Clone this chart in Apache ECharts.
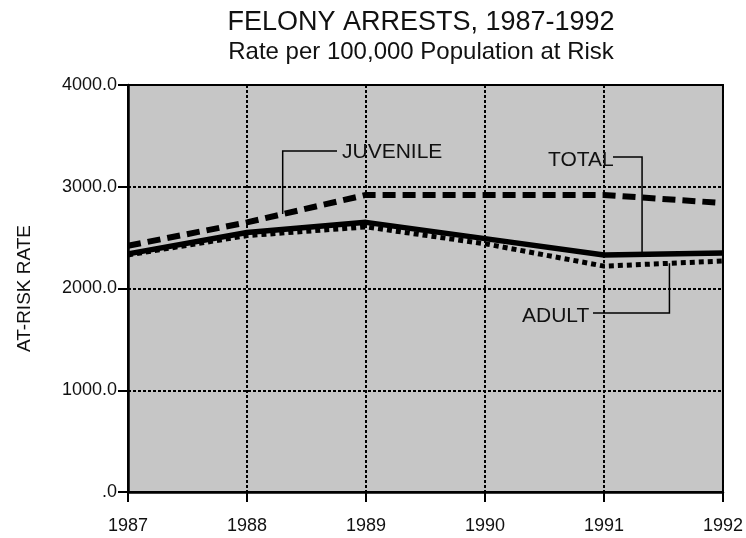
<!DOCTYPE html>
<html>
<head>
<meta charset="utf-8">
<script src="https://cdn.jsdelivr.net/npm/echarts@6/dist/echarts.min.js"></script>
<style>
html,body{margin:0;padding:0;background:#fff;}
#chart{width:746px;height:538px;}
</style>
</head>
<body>
<div id="chart"></div>
<script>
// ---- data ----
const yearLabels = ['1987', '1988', '1989', '1990', '1991', '1992'];
const years = [1987, 1988, 1989, 1990, 1991, 1992];
const juvenile = [2420, 2650, 2920, 2920, 2920, 2840];
const total = [2340, 2550, 2650, 2490, 2330, 2350];
const adult = [2330, 2520, 2605, 2440, 2220, 2270];
const yTickLabels = ['.0', '1000.0', '2000.0', '3000.0', '4000.0'];
const titleText = 'FELONY ARRESTS, 1987-1992';
const subtitleText = 'Rate per 100,000 Population at Risk';
const yAxisName = 'AT-RISK RATE';

const FONT = '"Liberation Sans", Arial, Helvetica, sans-serif';
const chart = echarts.init(document.getElementById('chart'));

const toPairs = arr => years.map((y, i) => [y, arr[i]]);

chart.setOption({
  animation: false,
  backgroundColor: '#ffffff',
  grid: {
    left: 128, right: 16, top: 85, bottom: 46,
    show: true, backgroundColor: '#c6c6c6',
    borderColor: '#000', borderWidth: 2
  },
  xAxis: {
    type: 'value', min: 1987, max: 1992, interval: 1,
    axisLine: { show: true, onZero: false, lineStyle: { color: '#000', width: 2.5 } },
    axisTick: { show: true, length: 10, lineStyle: { color: '#000', width: 2 } },
    axisLabel: {
      formatter: v => yearLabels[years.indexOf(v)] || '',
      fontSize: 18, color: '#111', fontFamily: FONT, margin: 25
    },
    splitLine: { show: true, lineStyle: { color: '#000', width: 2, type: [3, 2] } }
  },
  yAxis: {
    type: 'value', min: 0, max: 4000, interval: 1000,
    name: yAxisName, nameLocation: 'middle', nameGap: 94,
    nameTextStyle: { fontSize: 19, color: '#111', fontFamily: FONT },
    axisLine: { show: true, lineStyle: { color: '#000', width: 2.5 } },
    axisTick: { show: true, length: 10, lineStyle: { color: '#000', width: 2 } },
    axisLabel: {
      formatter: v => yTickLabels[Math.round(v / 1000)],
      fontSize: 18, color: '#111', fontFamily: FONT, margin: 11
    },
    splitLine: { show: true, lineStyle: { color: '#000', width: 2, type: [3, 2] } }
  },
  series: [
    {
      name: 'ADULT', type: 'line', data: toPairs(adult), symbol: 'none',
      lineStyle: { color: '#000', width: 5, type: [5, 4], cap: 'butt' }, z: 3
    },
    {
      name: 'TOTAL', type: 'line', data: toPairs(total), symbol: 'none',
      lineStyle: { color: '#000', width: 5.5, type: 'solid' }, z: 4
    },
    {
      name: 'JUVENILE', type: 'line', data: toPairs(juvenile), symbol: 'none',
      lineStyle: { color: '#000', width: 6, type: [13, 7], cap: 'butt' }, z: 5
    }
  ]
});

// value of a series at a fractional year (linear between its own points)
function valueAt(arr, yr) {
  const i = Math.min(Math.floor(yr - years[0]), years.length - 2);
  const t = yr - years[i];
  return arr[i] + (arr[i + 1] - arr[i]) * t;
}
function px(yr, val) { return chart.convertToPixel({ gridIndex: 0 }, [yr, val]); }

// annotation layout: label text box and elbow of the leader line
const annotations = [
  { text: 'JUVENILE', arr: juvenile, anchorYear: 1988.3, textX: 342, textY: 152, elbowY: 151, startX: 337 },
  { text: 'TOTAL', arr: total, anchorYear: 1991.32, textX: 548, textY: 160, elbowY: 157, startX: 613 },
  { text: 'ADULT', arr: adult, anchorYear: 1991.55, textX: 522, textY: 316, elbowY: 313, startX: 593 }
];

const graphics = [
  { type: 'text', x: 421, y: 23, style: { text: titleText, font: '27px ' + FONT, fill: '#111', textAlign: 'center', textVerticalAlign: 'middle' } },
  { type: 'text', x: 421, y: 52, style: { text: subtitleText, font: '24px ' + FONT, fill: '#111', textAlign: 'center', textVerticalAlign: 'middle' } }
];
annotations.forEach(a => {
  const p = px(a.anchorYear, valueAt(a.arr, a.anchorYear));
  graphics.push({
    type: 'polyline', z: 10,
    shape: { points: [[a.startX, a.elbowY], [p[0], a.elbowY], [p[0], p[1]]] },
    style: { stroke: '#000', lineWidth: 1.5, fill: null }
  });
  graphics.push({
    type: 'text', z: 11, x: a.textX, y: a.textY,
    style: { text: a.text, font: '21px ' + FONT, fill: '#111', textAlign: 'left', textVerticalAlign: 'middle' }
  });
});
chart.setOption({ graphic: graphics });
</script>
</body>
</html>
